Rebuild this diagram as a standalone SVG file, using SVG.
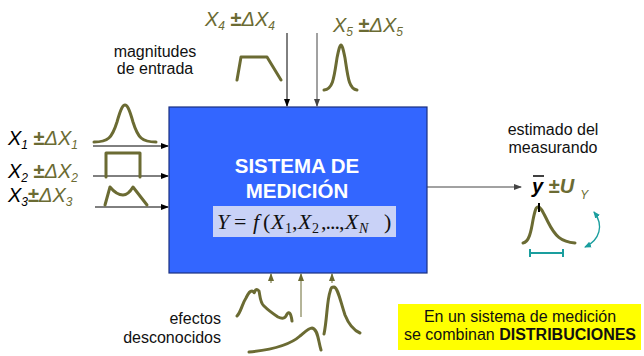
<svg xmlns="http://www.w3.org/2000/svg" width="644" height="356" viewBox="0 0 644 356">
<defs>
<marker id="ab" markerWidth="8" markerHeight="8" refX="7" refY="4" orient="auto" markerUnits="userSpaceOnUse"><path d="M0,1 L8,4 L0,7 z" fill="#000"/></marker>
<marker id="ag" markerWidth="8" markerHeight="8" refX="7" refY="4" orient="auto" markerUnits="userSpaceOnUse"><path d="M0,1 L8,4 L0,7 z" fill="#444"/></marker>
<marker id="ao" markerWidth="8" markerHeight="8" refX="7" refY="4" orient="auto" markerUnits="userSpaceOnUse"><path d="M0,1 L8,4 L0,7 z" fill="#6B6B33"/></marker>
<marker id="at" markerWidth="7" markerHeight="7" refX="6" refY="3.5" orient="auto" markerUnits="userSpaceOnUse"><path d="M0,0.5 L7,3.5 L0,6.5 z" fill="#1A9E9E"/></marker>
<marker id="ats" markerWidth="7" markerHeight="7" refX="1" refY="3.5" orient="auto" markerUnits="userSpaceOnUse"><path d="M7,0.5 L0,3.5 L7,6.5 z" fill="#1A9E9E"/></marker>
</defs>
<style>
.lbl{font-family:"Liberation Sans",Arial,sans-serif;font-size:16px;fill:#111}
.var{font-family:"Liberation Sans",Arial,sans-serif;font-size:20px;font-style:italic}
.blk{fill:#000}
.olv{fill:#6B6B33}
.crv{fill:none;stroke:#6B6B33;stroke-width:3;stroke-linecap:round;stroke-linejoin:round}
.cn{fill:none;stroke:#000;stroke-width:1}
.fm{font-family:"Liberation Serif","Times New Roman",serif;font-size:22px;fill:#111}
.it{font-style:italic}
.sb{font-size:14px}
</style>

<g id="connectors">
<line class="cn" x1="93" y1="146" x2="168" y2="146" marker-end="url(#ab)"/>
<line class="cn" x1="93" y1="176" x2="168" y2="176" marker-end="url(#ab)"/>
<line class="cn" x1="95" y1="207" x2="168" y2="207" marker-end="url(#ab)"/>
<line class="cn" x1="287" y1="33" x2="287" y2="106" marker-end="url(#ab)"/>
<line x1="317" y1="33" x2="317" y2="106" stroke="#444" stroke-width="1" marker-end="url(#ag)"/>
<line x1="427" y1="187" x2="521" y2="187" stroke="#444" stroke-width="1" marker-end="url(#ag)"/>
<line x1="271" y1="283" x2="271" y2="274" stroke="#6B6B33" stroke-width="1" marker-end="url(#ao)"/>
<line x1="301" y1="317" x2="301" y2="274" stroke="#6B6B33" stroke-width="1" marker-end="url(#ao)"/>
<line x1="332" y1="283" x2="332" y2="274" stroke="#6B6B33" stroke-width="1" marker-end="url(#ao)"/>
</g>

<g id="sistema">
<rect x="169" y="107" width="258" height="166" fill="#3366FF" stroke="#1A2F80" stroke-width="1.2"/>
<text x="297" y="173" text-anchor="middle" font-family="Liberation Sans,Arial,sans-serif" font-size="20.5" font-weight="bold" fill="#fff">SISTEMA DE</text>
<text x="297" y="198" text-anchor="middle" font-family="Liberation Sans,Arial,sans-serif" font-size="20.5" font-weight="bold" fill="#fff">MEDICIÓN</text>
<rect x="213" y="206" width="183" height="31" fill="#C9D2F7"/>
<text class="fm" y="229"><tspan class="it" x="217">Y</tspan><tspan x="234">=</tspan><tspan class="it" x="253">f</tspan><tspan x="263">(</tspan><tspan class="it" x="271">X</tspan><tspan class="sb" x="285" y="233">1</tspan><tspan x="292" y="229">,</tspan><tspan class="it" x="298">X</tspan><tspan class="sb" x="312" y="233">2</tspan><tspan x="321" y="229" letter-spacing="-1">,...,</tspan><tspan class="it" x="345">X</tspan><tspan class="sb it" x="359" y="233">N</tspan><tspan x="384" y="229">)</tspan></text>
</g>

<g id="x1">
<text class="var" x="8" y="145"><tspan class="blk">X</tspan><tspan class="blk" font-size="12" dy="4">1</tspan><tspan class="olv" dy="-4" font-style="normal" font-weight="bold"> ±</tspan><tspan class="olv">ΔX</tspan><tspan class="olv" font-size="12" dy="4">1</tspan></text>
<path class="crv" d="M94,142 C108,142 112,138 117,122 C121,108 123,105 125,105 C127,105 129,108 133,122 C138,138 142,142 156,142"/>
</g>
<g id="x2">
<text class="var" x="8" y="178"><tspan class="blk">X</tspan><tspan class="blk" font-size="12" dy="4">2</tspan><tspan class="olv" dy="-4" font-style="normal" font-weight="bold"> ±</tspan><tspan class="olv">ΔX</tspan><tspan class="olv" font-size="12" dy="4">2</tspan></text>
<path class="crv" d="M106,177 L106,153 L140,153 L140,177"/>
</g>
<g id="x3">
<text class="var" x="8" y="202"><tspan class="blk">X</tspan><tspan class="blk" font-size="12" dy="4">3</tspan><tspan class="olv" dy="-4" font-style="normal" font-weight="bold">±</tspan><tspan class="olv">ΔX</tspan><tspan class="olv" font-size="12" dy="4">3</tspan></text>
<path class="crv" d="M105,205 L110,187 C115,193 119,195 123,195 C127,195 130,192 133,187 L147,205"/>
</g>
<g id="x4">
<text class="var" x="205" y="26"><tspan class="olv">X</tspan><tspan class="olv" font-size="12" dy="4">4</tspan><tspan class="olv" dy="-4" font-style="normal" font-weight="bold"> ±</tspan><tspan class="olv">ΔX</tspan><tspan class="olv" font-size="12" dy="4">4</tspan></text>
<path class="crv" d="M237,80 L241,57 L267,57 L281,80"/>
</g>
<g id="x5">
<text class="var" x="333" y="32"><tspan class="olv">X</tspan><tspan class="olv" font-size="12" dy="4">5</tspan><tspan class="olv" dy="-4" font-style="normal" font-weight="bold"> ±</tspan><tspan class="olv">ΔX</tspan><tspan class="olv" font-size="12" dy="4">5</tspan></text>
<path class="crv" d="M324,90 C333,89 334,78 337,58 C339,48 340,45 341,45 C342,45 343,48 345,58 C348,78 349,89 357,90"/>
</g>
<g id="magnitudes">
<text class="lbl" x="155" y="57" text-anchor="middle">magnitudes</text>
<text class="lbl" x="155" y="74" text-anchor="middle">de entrada</text>
</g>

<g id="salida">
<text class="lbl" x="553" y="135" text-anchor="middle">estimado del</text>
<text class="lbl" x="553" y="153" text-anchor="middle">measurando</text>
<text class="var" x="532" y="193" font-weight="bold"><tspan class="blk">y</tspan><tspan class="olv" font-style="normal"> ±</tspan><tspan class="olv">U</tspan><tspan class="olv" font-size="12" font-weight="normal" dx="6" dy="6">Y</tspan></text>
<line x1="533" y1="176" x2="544" y2="176" stroke="#000" stroke-width="1.5"/>
<path class="crv" d="M523,243 C529,242 531,232 533,220 C535,210 536,207 538,207 C541,207 543,212 548,222 C555,236 561,242 575,243"/>
<line x1="539" y1="203" x2="539" y2="212" stroke="#000" stroke-width="2"/>
<path d="M530,253 L563,253 M530,249 L530,257 M563,249 L563,257" stroke="#1A9E9E" stroke-width="2" fill="none"/>
<path d="M594,212 C604,225 600,240 585,247" stroke="#1A9E9E" stroke-width="1.3" fill="none" marker-start="url(#ats)" marker-end="url(#at)"/>
</g>

<g id="efectos">
<text class="lbl" x="221" y="324" text-anchor="end">efectos</text>
<text class="lbl" x="221" y="343" text-anchor="end">desconocidos</text>
<path class="crv" d="M237,316 C241,312 242,304 246,298 C249,292 250,291 252,291 C254,291 254,295 255,291 C256,289 257,289 259,291 C260,295 260,303 264,306 C268,310 272,313 278,317 C282,319 285,319 287,314 C289,311 291,313 292,321"/>
<path class="crv" d="M249,352 C270,350 290,345 300,336 C306,331 309,328 312,328 C318,329 318,340 321,350"/>
<path class="crv" d="M324,334 C327,320 327,300 330,292 C331,287 332,287 334,287 C338,288 340,300 345,315 C349,325 353,330 360,333"/>
</g>

<g id="nota">
<rect x="398" y="304" width="243" height="46" fill="#FFFF00"/>
<text class="lbl" x="520" y="322" text-anchor="middle">En un sistema de medición</text>
<text class="lbl" x="520" y="340" text-anchor="middle">se combinan <tspan font-weight="bold">DISTRIBUCIONES</tspan></text>
</g>
</svg>
